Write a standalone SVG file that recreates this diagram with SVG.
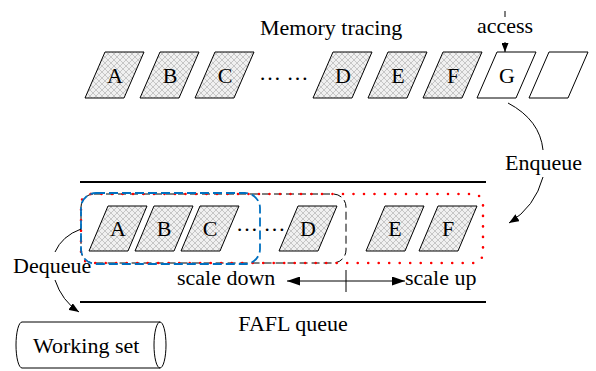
<svg xmlns="http://www.w3.org/2000/svg" width="596" height="371" viewBox="0 0 596 371">
<defs>
<pattern id="hatch" patternUnits="userSpaceOnUse" width="6" height="6">
<rect width="6" height="6" fill="#f0f0f0"/>
<path d="M0,0 L6,6 M6,0 L0,6" stroke="#b4b4b4" stroke-width="0.7"/>
</pattern>
<marker id="arr" viewBox="0 0 10 8" refX="10" refY="4" markerWidth="10" markerHeight="8" markerUnits="userSpaceOnUse" orient="auto">
<path d="M0,0 L10,4 L0,8 Z" fill="#000"/>
</marker>
<marker id="arrl" viewBox="0 0 13 9" refX="13" refY="4.5" markerWidth="13" markerHeight="9" markerUnits="userSpaceOnUse" orient="auto">
<path d="M0,0 L13,4.5 L0,9 Z" fill="#000"/>
</marker>
<marker id="arrs" viewBox="0 0 9 7" refX="9" refY="3.5" markerWidth="9" markerHeight="7" markerUnits="userSpaceOnUse" orient="auto">
<path d="M0,0 L9,3.5 L0,7 Z" fill="#000"/>
</marker>
</defs>
<style>
text{font-family:"Liberation Serif","Times New Roman",serif;font-size:22px;fill:#000}
.lbl{text-anchor:middle}
.h{fill:url(#hatch);stroke:#000;stroke-width:1}
.w{fill:#fff;stroke:#000;stroke-width:1}
.ln{fill:none;stroke:#000;stroke-width:1}
</style>
<text x="260" y="35">Memory tracing</text>
<g id="top-A"><polygon class="h" points="105,52 144,52 124,98 85,98"/><text class="lbl" x="115" y="83">A</text></g>
<g id="top-B"><polygon class="h" points="160,52 199,52 179,98 140,98"/><text class="lbl" x="170" y="83">B</text></g>
<g id="top-C"><polygon class="h" points="215,52 254,52 234,98 195,98"/><text class="lbl" x="225" y="83">C</text></g>
<text x="259" y="80">… …</text>
<g id="top-D"><polygon class="h" points="333,52 372,52 352,98 313,98"/><text class="lbl" x="343" y="83">D</text></g>
<g id="top-E"><polygon class="h" points="388,52 427,52 407,98 368,98"/><text class="lbl" x="398" y="83">E</text></g>
<g id="top-F"><polygon class="h" points="443,52 482,52 462,98 423,98"/><text class="lbl" x="453" y="83">F</text></g>
<g id="top-G"><polygon class="w" points="497,52 536,52 516,98 477,98"/><text class="lbl" x="507" y="83">G</text></g>
<g id="top-empty"><polygon class="w" points="549,52 588,52 568,98 529,98"/></g>
<g id="access"><text class="lbl" x="505" y="33">access</text></g>
<g id="enqueue"><text x="505" y="170">Enqueue</text></g>
<g id="fafl-queue">
<path d="M80,182 H486 M80,302 H486" stroke="#000" stroke-width="2"/>
<text class="lbl" x="293" y="331">FAFL queue</text>
</g>
<g id="mid-A"><polygon class="h" points="108,206 147,206 128,251 89,251"/><text class="lbl" x="118" y="236">A</text></g>
<g id="mid-B"><polygon class="h" points="154,206 193,206 174,251 135,251"/><text class="lbl" x="164" y="236">B</text></g>
<g id="mid-C"><polygon class="h" points="200,206 239,206 220,251 181,251"/><text class="lbl" x="210" y="236">C</text></g>
<text x="236" y="231">… …</text>
<g id="mid-D"><polygon class="h" points="298,206 337,206 318,251 279,251"/><text class="lbl" x="308" y="236">D</text></g>
<g id="mid-E"><polygon class="h" points="385,206 424,206 405,251 366,251"/><text class="lbl" x="395" y="236">E</text></g>
<g id="mid-F"><polygon class="h" points="438,206 477,206 458,251 419,251"/><text class="lbl" x="448" y="236">F</text></g>
<g id="regions">
<rect x="81" y="194" width="265" height="69" rx="13" fill="none" stroke="#000" stroke-width="1" stroke-dasharray="8 4"/>
<rect x="81" y="194" width="402" height="69" rx="10" fill="none" stroke="#f00" stroke-width="2.6" stroke-linecap="round" stroke-dasharray="0 10.5"/>
<rect x="81" y="193" width="179" height="71" rx="15" fill="none" stroke="#0070c0" stroke-width="1.8" stroke-dasharray="9 4"/>
</g>
<g id="scale">
<path class="ln" d="M346,270 V292" stroke-width="1.5"/>
<path class="ln" d="M346,281 H287" stroke-width="1.5" marker-end="url(#arrl)"/>
<path class="ln" d="M346,281 H405" stroke-width="1.5" marker-end="url(#arrl)"/>
<text x="177" y="285">scale down</text>
<text x="405" y="285">scale up</text>
</g>
<g id="dequeue"><text x="13" y="273">Dequeue</text></g>
<g id="working-set">
<path class="ln" d="M22,322 H160 M22,368 H160 M22,322 A6,23 0 0 0 22,368"/>
<ellipse cx="160" cy="345" rx="6" ry="23" fill="none" stroke="#000" stroke-width="1"/>
<text x="33" y="353">Working set</text>
</g>
<g id="connectors">
<path class="ln" d="M505,11 V17"/>
<path class="ln" d="M505,42 V52" marker-end="url(#arrs)"/>
<path class="ln" d="M508,103 Q540,120 543,150"/>
<path class="ln" d="M543,177 Q535,207 509,223" marker-end="url(#arr)"/>
<path class="ln" d="M81,229 Q62,236 55,252"/>
<path class="ln" d="M55,280 Q62,301 79,312" marker-end="url(#arr)"/>
</g>
</svg>
